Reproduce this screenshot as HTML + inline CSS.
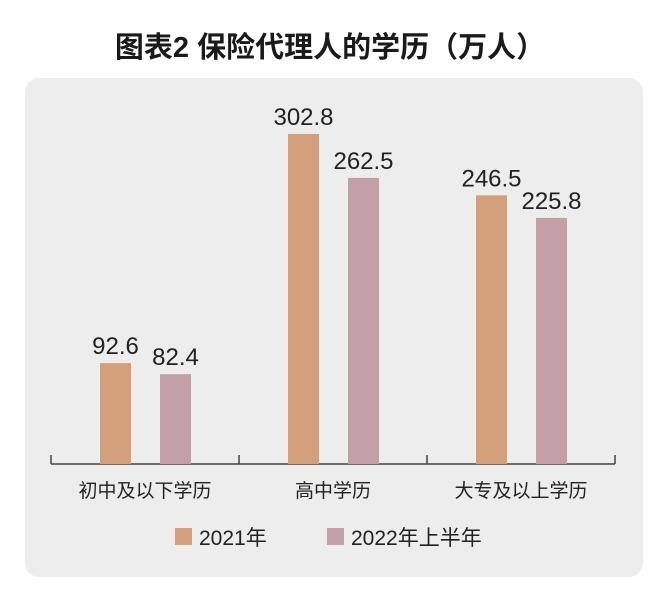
<!DOCTYPE html>
<html><head><meta charset="utf-8"><style>
body{margin:0;background:#fff;width:660px;height:599px;overflow:hidden;font-family:"Liberation Sans","Noto Sans CJK SC",sans-serif}
</style></head><body>
<svg width="660" height="599" font-family="Liberation Sans, Noto Sans CJK SC, sans-serif">
<text x="330" y="57" text-anchor="middle" font-size="29" font-weight="bold" fill="#1a1a1a">图表2  保险代理人的学历（万人）</text>
<rect x="25" y="78" width="618" height="499" rx="14" fill="#ededee"/>
<g id="plot"></g>
</svg>
<script>
const categories=["初中及以下学历","高中学历","大专及以上学历"];
const series2021=[92.6,302.8,246.5];
const series2022=[82.4,262.5,225.8];
const seriesNames=["2021年","2022年上半年"];
const colors=["#d4a07c","#c3a0a7"];
const NS="http://www.w3.org/2000/svg";
const g=document.getElementById('plot');
const x0=51,x1=615,base=464,scale=1.09;
const bw=(x1-x0)/categories.length;
const y=v=>base-v*scale;
function mk(t,a){const e=document.createElementNS(NS,t);for(const k in a)e.setAttribute(k,a[k]);g.appendChild(e);return e;}
const ax=mk('line',{x1:x0,x2:x1,y1:base,y2:base,stroke:'#444','stroke-width':1.5});


for(let i=0;i<=categories.length;i++){const t=mk('line',{x1:x0+i*bw,x2:x0+i*bw,y1:base-9,y2:base,stroke:'#444','stroke-width':1.5});

}
[series2021,series2022].forEach((s,si)=>{s.forEach((v,i)=>{
const bx=x0+i*bw+49+si*60;
const r=mk('rect',{x:bx,y:y(v),width:31,height:v*scale,fill:colors[si]});


const t=mk('text',{x:bx+15.5,y:y(v)-9,'text-anchor':'middle','font-size':24,fill:'#222'});
t.textContent=v.toFixed(1);


});});
categories.forEach((c,i)=>{const t=mk('text',{x:x0+i*bw+bw/2,y:497,'text-anchor':'middle','font-size':19,fill:'#222'});
t.textContent=c;

});
const lx=[175,327];
seriesNames.forEach((n,i)=>{
const r=mk('rect',{x:lx[i],y:528,width:17,height:17,fill:colors[i]});


const t=mk('text',{x:lx[i]+24,y:545,'font-size':21,fill:'#222'});
t.textContent=n;

});
</script>
</body></html>
